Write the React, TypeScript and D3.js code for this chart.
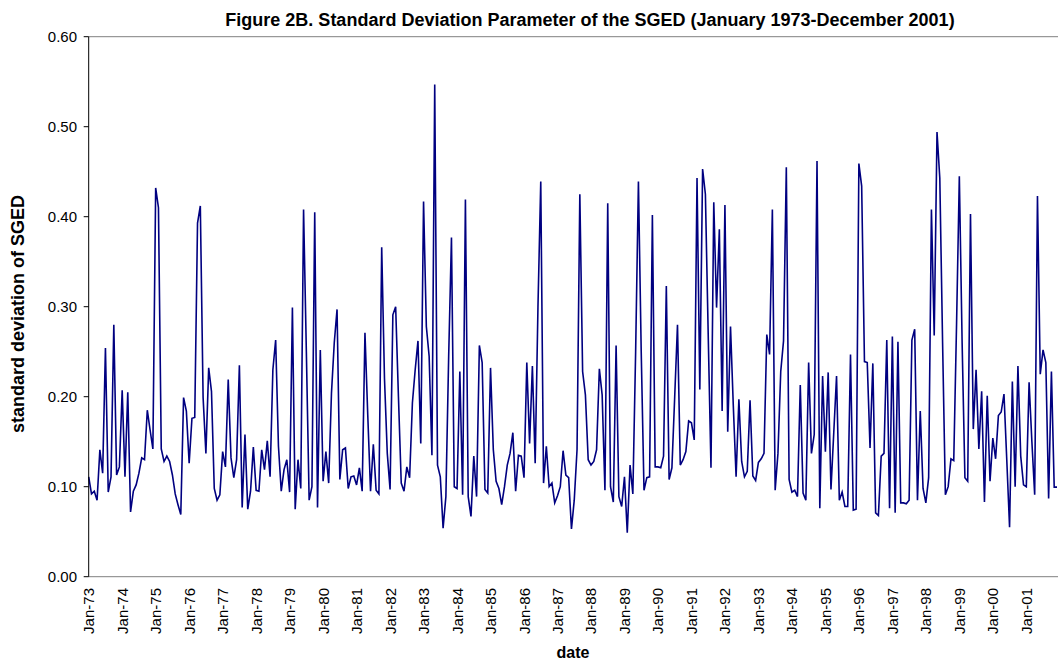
import * as d3 from "d3";

// monthly standard deviation of the SGED, Jan 1973 - Dec 2001
const sd1970s = [
  0.111, 0.092, 0.095, 0.085, 0.141, 0.115, 0.254, 0.094, 0.111, 0.28, 0.113, 0.122,
  0.207, 0.111, 0.205, 0.072, 0.095, 0.102, 0.115, 0.132, 0.13, 0.185, 0.163, 0.142,
  0.432, 0.41, 0.142, 0.128, 0.134, 0.128, 0.113, 0.092, 0.08, 0.069, 0.199, 0.184,
  0.126, 0.176, 0.177, 0.393, 0.412, 0.199, 0.137, 0.232, 0.206, 0.098, 0.085, 0.091,
  0.139, 0.122, 0.219, 0.132, 0.11, 0.13, 0.235, 0.077, 0.158, 0.075, 0.095, 0.144,
  0.096, 0.095, 0.141, 0.119, 0.151, 0.111, 0.23, 0.263, 0.145, 0.095, 0.119, 0.13,
  0.094, 0.299, 0.075, 0.13, 0.098, 0.408, 0.25, 0.085, 0.1, 0.405, 0.077, 0.252,
];
const sd1980s = [
  0.106, 0.139, 0.104, 0.204, 0.26, 0.297, 0.108, 0.141, 0.143, 0.098, 0.111, 0.112,
  0.102, 0.121, 0.095, 0.271, 0.18, 0.095, 0.147, 0.096, 0.092, 0.366, 0.22, 0.137,
  0.097, 0.291, 0.3, 0.2, 0.104, 0.095, 0.122, 0.11, 0.193, 0.23, 0.262, 0.148,
  0.417, 0.278, 0.245, 0.135, 0.547, 0.124, 0.111, 0.054, 0.089, 0.245, 0.377, 0.1,
  0.098, 0.228, 0.091, 0.419, 0.089, 0.067, 0.134, 0.089, 0.257, 0.238, 0.097, 0.093,
  0.232, 0.141, 0.106, 0.098, 0.08, 0.1, 0.124, 0.137, 0.16, 0.095, 0.135, 0.134,
  0.11, 0.238, 0.148, 0.234, 0.126, 0.3, 0.439, 0.104, 0.145, 0.1, 0.104, 0.082,
  0.09, 0.1, 0.14, 0.113, 0.11, 0.053, 0.085, 0.141, 0.425, 0.228, 0.202, 0.13,
  0.124, 0.128, 0.141, 0.231, 0.202, 0.096, 0.415, 0.1, 0.083, 0.257, 0.089, 0.078,
  0.111, 0.049, 0.124, 0.092, 0.25, 0.439, 0.25, 0.096, 0.11, 0.111, 0.402, 0.122,
];
const sd1990s = [
  0.122, 0.121, 0.134, 0.323, 0.108, 0.121, 0.2, 0.28, 0.124, 0.13, 0.139, 0.173,
  0.171, 0.152, 0.443, 0.208, 0.453, 0.425, 0.27, 0.121, 0.416, 0.299, 0.386, 0.184,
  0.413, 0.161, 0.278, 0.19, 0.111, 0.197, 0.128, 0.111, 0.117, 0.196, 0.112, 0.107,
  0.127, 0.131, 0.137, 0.269, 0.247, 0.408, 0.096, 0.137, 0.228, 0.262, 0.455, 0.108,
  0.094, 0.096, 0.089, 0.213, 0.093, 0.085, 0.238, 0.137, 0.158, 0.462, 0.076, 0.223,
  0.139, 0.227, 0.097, 0.16, 0.223, 0.085, 0.094, 0.078, 0.078, 0.247, 0.074, 0.075,
  0.459, 0.434, 0.239, 0.238, 0.143, 0.237, 0.071, 0.068, 0.134, 0.137, 0.263, 0.076,
  0.267, 0.071, 0.261, 0.082, 0.082, 0.081, 0.085, 0.263, 0.275, 0.085, 0.184, 0.098,
  0.082, 0.11, 0.408, 0.268, 0.494, 0.443, 0.26, 0.091, 0.1, 0.131, 0.129, 0.28,
  0.445, 0.26, 0.11, 0.106, 0.403, 0.164, 0.23, 0.142, 0.206, 0.083, 0.201, 0.106,
];
const sd2000s = [
  0.154, 0.131, 0.179, 0.183, 0.203, 0.13, 0.055, 0.217, 0.1, 0.234, 0.134, 0.102,
  0.1, 0.216, 0.15, 0.091, 0.423, 0.225, 0.252, 0.238, 0.087, 0.228, 0.0995, 0.0995,
];

const yearLabels = [
  "Jan-73", "Jan-74", "Jan-75", "Jan-76", "Jan-77", "Jan-78", "Jan-79", "Jan-80",
  "Jan-81", "Jan-82", "Jan-83", "Jan-84", "Jan-85", "Jan-86", "Jan-87", "Jan-88",
  "Jan-89", "Jan-90", "Jan-91", "Jan-92", "Jan-93", "Jan-94", "Jan-95", "Jan-96",
  "Jan-97", "Jan-98", "Jan-99", "Jan-00", "Jan-01",
];
const yTicks = [0, 0.1, 0.2, 0.3, 0.4, 0.5, 0.6];

const W = 1058;
const H = 671;
const font = "'Liberation Sans', Arial, Helvetica, sans-serif";

export default function App() {
  const values = [...sd1970s, ...sd1980s, ...sd1990s, ...sd2000s];
  const n = values.length;

  const left = 88.7;
  const right = 1057;
  const top = 36.7;
  const bottom = 576.7;

  const x = d3.scaleLinear().domain([0, n - 1]).range([left, right]);
  const y = d3.scaleLinear().domain([0, 0.6]).range([bottom, top]);

  const line = d3
    .line<number>()
    .x((_, i) => x(i))
    .y((d) => y(d));

  return (
    <svg
      width={W}
      height={H}
      style={{ position: "absolute", left: 0, top: 0, background: "#fff" }}
      fontFamily={font}
    >
      {/* plot area border (top / bottom) */}
      <line x1={left} x2={W} y1={top} y2={top} stroke="#808080" strokeWidth={1} />
      <line x1={left} x2={W} y1={bottom} y2={bottom} stroke="#808080" strokeWidth={1} />

      <path d={line(values) ?? ""} fill="none" stroke="#000080" strokeWidth={1.6} strokeLinejoin="miter" />

      {/* y axis */}
      <line x1={left} x2={left} y1={top} y2={bottom} stroke="#000" strokeWidth={1} />
      {yTicks.map((t) => (
        <g key={t}>
          <line x1={left - 5} x2={left} y1={y(t)} y2={y(t)} stroke="#000" />
          <text x={77} y={y(t)} textAnchor="end" dominantBaseline="central" fontSize={15}>
            {t.toFixed(2)}
          </text>
        </g>
      ))}

      {/* x labels */}
      {yearLabels.map((lab, k) => {
        const tx = x(k * 12);
        return (
          <text
            key={lab}
            transform={`translate(${tx},588) rotate(-90)`}
            textAnchor="end"
            dominantBaseline="central"
            fontSize={15}
          >
            {lab}
          </text>
        );
      })}

      <text x={590} y={26} textAnchor="middle" fontSize={18} fontWeight="bold">
        Figure 2B. Standard Deviation Parameter of the SGED (January 1973-December 2001)
      </text>
      <text
        transform={`translate(18,314) rotate(-90)`}
        textAnchor="middle"
        dominantBaseline="central"
        fontSize={18}
        fontWeight="bold"
      >
        standard deviation of SGED
      </text>
      <text x={573} y={658} textAnchor="middle" fontSize={16} fontWeight="bold">
        date
      </text>
    </svg>
  );
}
